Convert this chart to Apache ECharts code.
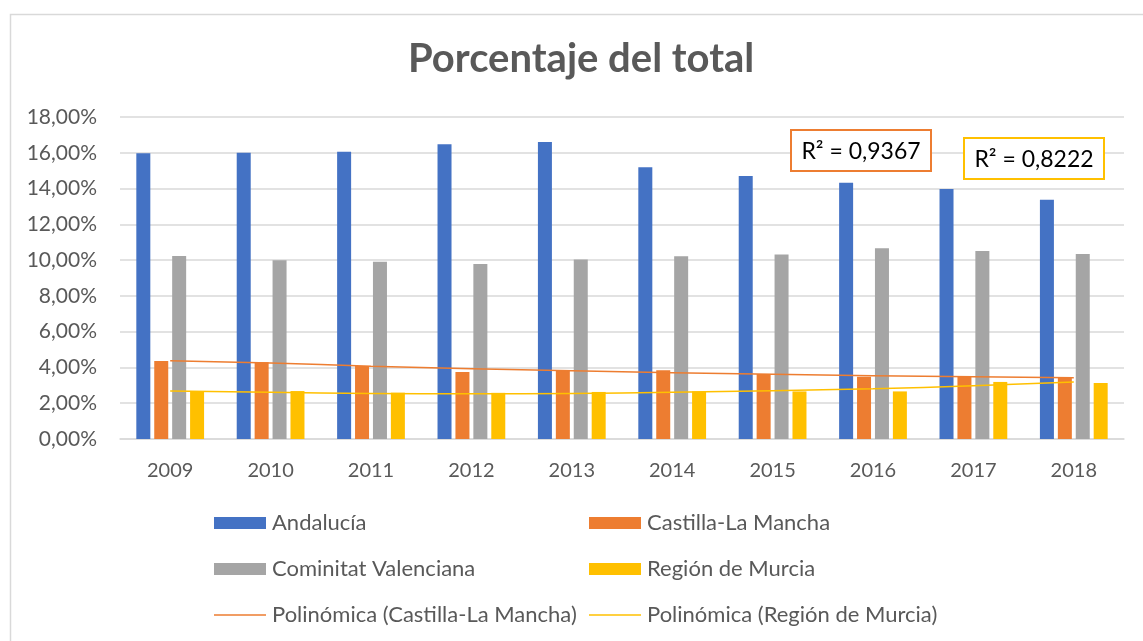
<!DOCTYPE html>
<html>
<head>
    <meta http-equiv="Content-Type" content="text/html; charset=utf-8" />
    <script src="https://cdn.jsdelivr.net/npm/echarts@6/dist/echarts.min.js"></script>
    <style>
        html, body { margin: 0; padding: 0; background: #fff; }
        #grafico { width: 1143px; height: 641px; }
    </style>
</head>
<body>

<!-- grafico de porcentajes -->
<div id="grafico"></div>

<script type="text/javascript">
    var anios = ['2009', '2010', '2011', '2012', '2013', '2014', '2015', '2016', '2017', '2018'];

    // porcentaje del total por comunidad
    var andalucia = [15.97, 16.00, 16.06, 16.47, 16.60, 15.19, 14.70, 14.33, 13.97, 13.38];
    var castilla = [4.36, 4.29, 4.08, 3.74, 3.82, 3.84, 3.63, 3.48, 3.48, 3.43];
    var valenciana = [10.23, 9.99, 9.91, 9.78, 10.04, 10.21, 10.32, 10.66, 10.51, 10.34];
    var murcia = [2.68, 2.68, 2.59, 2.58, 2.63, 2.66, 2.66, 2.66, 3.19, 3.13];

    // lineas de tendencia
    var tendCastilla = [4.38, 4.25, 4.07, 3.93, 3.82, 3.71, 3.62, 3.54, 3.48, 3.43];
    var tendMurcia = [2.68, 2.61, 2.55, 2.53, 2.55, 2.61, 2.70, 2.81, 2.98, 3.19];

    var ticksY = [0, 18, 2];

    var fuente = 'Lato';
    var gris = '#595959';
    var iconoLinea = 'path://M0,0 L52,0 L52,1.6 L0,1.6 Z';

    var grafico = echarts.init(document.getElementById('grafico'));

    function cajaR2(x, y, w, h, color, texto) {
        return {
            type: 'group',
            left: x,
            top: y,
            z: 100,
            children: [
                {
                    type: 'rect',
                    z: 100,
                    shape: { x: 0, y: 0, width: w, height: h },
                    style: { fill: '#fff', stroke: color, lineWidth: 2 }
                },
                {
                    type: 'text',
                    z: 101,
                    x: w / 2,
                    y: h / 2 + 1,
                    style: {
                        text: texto,
                        fill: '#000',
                        font: '23px ' + fuente,
                        align: 'center',
                        verticalAlign: 'middle'
                    }
                }
            ]
        };
    }

    var leyendaBase = {
        orient: 'vertical',
        top: 512,
        padding: 0,
        itemWidth: 52,
        itemHeight: 12,
        itemGap: 24,
        textStyle: { fontFamily: fuente, fontSize: 22, color: gris, lineHeight: 22, padding: [0, 0, 0, 1] }
    };

    var option = {
        backgroundColor: '#fff',
        animation: false,
        title: {
            text: 'Porcentaje del total',
            left: 408,
            top: 39,
            padding: 0,
            textStyle: {
                fontFamily: fuente,
                fontWeight: 'bold',
                fontSize: 40,
                color: gris
            }
        },
        graphic: [
            {
                type: 'rect',
                left: 8,
                top: 12,
                shape: { x: 0.5, y: 0.5, width: 1200, height: 700 },
                style: { fill: 'none', stroke: '#d9d9d9', lineWidth: 1.5 },
                z: -1
            },
            cajaR2(790, 129, 140, 41, '#ED7D31', 'R² = 0,9367'),
            cajaR2(963, 137, 140, 41, '#FFC000', 'R² = 0,8222')
        ],
        legend: [
            Object.assign({}, leyendaBase, {
                left: 214,
                data: [
                    { name: 'Andalucía', icon: 'rect' },
                    { name: 'Cominitat Valenciana', icon: 'rect' },
                    { name: 'Polinómica (Castilla-La Mancha)', icon: iconoLinea }
                ]
            }),
            Object.assign({}, leyendaBase, {
                left: 589,
                data: [
                    { name: 'Castilla-La Mancha', icon: 'rect' },
                    { name: 'Región de Murcia', icon: 'rect' },
                    { name: 'Polinómica (Región de Murcia)', icon: iconoLinea }
                ]
            })
        ],
        grid: {
            left: 120,
            right: 19,
            top: 117,
            bottom: 202
        },
        xAxis: {
            type: 'category',
            data: anios,
            axisTick: { show: false },
            axisLine: { lineStyle: { color: '#d9d9d9', width: 1.5 } },
            axisLabel: {
                fontFamily: fuente,
                fontSize: 20,
                color: gris,
                margin: 22
            }
        },
        yAxis: {
            type: 'value',
            min: ticksY[0],
            max: ticksY[1],
            interval: ticksY[2],
            axisLine: { show: false },
            axisTick: { show: false },
            splitLine: { lineStyle: { color: '#d9d9d9', width: 1.5 } },
            axisLabel: {
                fontFamily: fuente,
                fontSize: 21,
                color: gris,
                margin: 23,
                formatter: function (v) {
                    return v.toFixed(2).replace('.', ',') + '%';
                }
            }
        },
        series: [
            {
                name: 'Andalucía',
                type: 'bar',
                barWidth: 14,
                barGap: '28%',
                itemStyle: { color: '#4472C4' },
                data: andalucia
            },
            {
                name: 'Castilla-La Mancha',
                type: 'bar',
                barWidth: 14,
                barGap: '28%',
                itemStyle: { color: '#ED7D31' },
                data: castilla
            },
            {
                name: 'Cominitat Valenciana',
                type: 'bar',
                barWidth: 14,
                barGap: '28%',
                itemStyle: { color: '#A5A5A5' },
                data: valenciana
            },
            {
                name: 'Región de Murcia',
                type: 'bar',
                barWidth: 14,
                barGap: '28%',
                itemStyle: { color: '#FFC000' },
                data: murcia
            },
            {
                name: 'Polinómica (Castilla-La Mancha)',
                type: 'line',
                symbol: 'none',
                smooth: true,
                z: 5,
                lineStyle: { color: '#ED7D31', width: 1.5 },
                itemStyle: { color: '#ED7D31' },
                data: tendCastilla
            },
            {
                name: 'Polinómica (Región de Murcia)',
                type: 'line',
                symbol: 'none',
                smooth: true,
                z: 5,
                lineStyle: { color: '#FFC000', width: 1.5 },
                itemStyle: { color: '#FFC000' },
                data: tendMurcia
            }
        ]
    };

    grafico.setOption(option);
</script>

</body>
</html>
